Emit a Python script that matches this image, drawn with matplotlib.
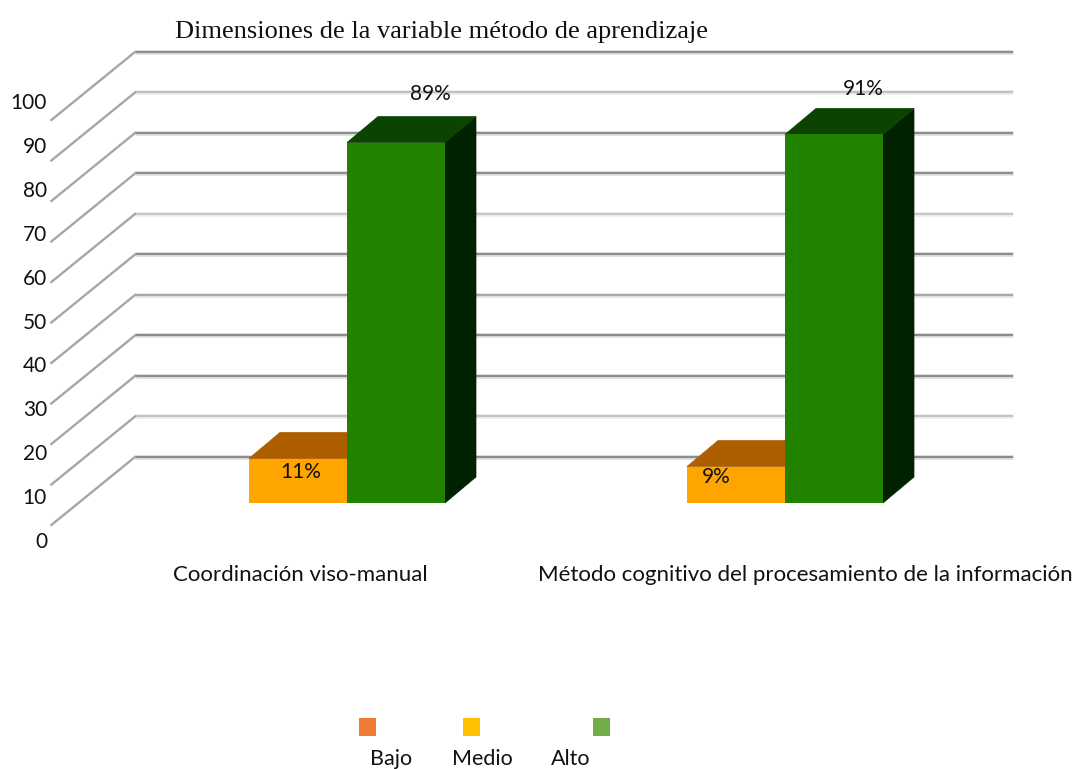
#!/usr/bin/env python3
# -*- coding: utf-8 -*-

import matplotlib
matplotlib.use('Agg')
import matplotlib.pyplot as plt
from matplotlib.patches import Polygon, Rectangle

categories = ['Coordinación viso-manual', 'Método cognitivo del procesamiento de la información']
medio = [11, 9]
alto = [89, 91]
ticks = [0, 10, 20, 30, 40, 50, 60, 70, 80, 90, 100]
legend_names = ['Bajo', 'Medio', 'Alto']
title = 'Dimensiones de la variable método de aprendizaje'

W, H = 1077, 769
# 1 category = 438 px, 1 value unit = 4.05 px
UX, UY = 438.0, 4.05
X0, Y0 = 347, 503

fig = plt.figure(figsize=(W / 100, H / 100), dpi=100)
ax = fig.add_axes([0, 0, 1, 1])
ax.set_xlim(-X0 / UX, (W - X0) / UX)
ax.set_ylim((Y0 - H) / UY, Y0 / UY)
ax.axis('off')

# the fake 3d walls
back_left, front_left, right = -0.484, -0.675, 1.52
back_y, front_y = 11.36, -5.43
grid_shade = ['#8c8c8c', '#c4c4c4', '#8f8f8f', '#8c8c8c', '#a8a8a8', '#8c8c8c',
              '#c8c8c8', '#8f8f8f', '#8c8c8c', '#c0c0c0', '#8c8c8c']
for t, c in zip(ticks, grid_shade):
    ax.plot([back_left, right], [back_y + t, back_y + t], color=c, lw=3.4, alpha=0.3,
            solid_capstyle='butt', zorder=1)
    ax.plot([back_left, right], [back_y + t, back_y + t], color=c, lw=1.5,
            solid_capstyle='butt', zorder=1)
    ax.plot([front_left, back_left], [front_y + t, back_y + t], color='#a6a6a6', lw=1.7, zorder=1)

# bars
bw = 98 / UX
dx, dy = 31 / UX, 26 / UY
for i in range(len(categories)):
    ax.bar(i - bw / 2, medio[i], bw, color='#ffa500', zorder=2)
    m = i - bw
    ax.add_patch(Polygon([(m, medio[i]), (m + dx, medio[i] + dy), (i + dx, medio[i] + dy), (i, medio[i])],
                         color='#ad5f00', lw=0.5, zorder=2))
    ax.add_patch(Polygon([(i + bw, 0), (i + bw + dx, dy), (i + bw + dx, alto[i] + dy), (i + bw, alto[i])],
                         color='#002200', lw=0.5, zorder=3))
    ax.add_patch(Polygon([(i, alto[i]), (i + dx, alto[i] + dy), (i + bw + dx, alto[i] + dy), (i + bw, alto[i])],
                         color='#0a4400', lw=0.5, zorder=3))
    ax.bar(i + bw / 2, alto[i], bw, color='#218200', zorder=3)

# value labels, offsets from the bar top in px
txt = dict(family='Lato', fontsize=15, color='#111111', ha='center', va='center', zorder=5)
medio_off = [(3, -14), (-20, -10)]
alto_off = [(34, 49), (29, 45)]
for i in range(len(categories)):
    ax.annotate('%d%%' % medio[i], (i - bw / 2, medio[i]), xytext=medio_off[i],
                textcoords='offset pixels', **txt)
    ax.annotate('%d%%' % alto[i], (i + bw / 2, alto[i]), xytext=alto_off[i],
                textcoords='offset pixels', **txt)


def px(x, y):
    return x / W, 1 - y / H


# tick labels do not sit on the gridlines in the original
for t in ticks:
    fig.text(*px(47, 542 - 4.39 * t), str(t), family='Lato', fontsize=15, color='#111111',
             ha='right', va='center')

for cx, name in zip([300, 805], categories):
    fig.text(*px(cx, 581), name, family='Lato', fontsize=16, color='#111111', ha='center', va='baseline')

fig.text(*px(175, 38), title, family='Liberation Serif', fontsize=19, color='#111111',
         ha='left', va='baseline')

# legend
for sx, c in zip([359, 463, 593], ['#ed7d31', '#ffc000', '#70ad47']):
    x, y = px(sx, 736)
    fig.add_artist(Rectangle((x, y), 17 / W, 18 / H, color=c, lw=0, transform=fig.transFigure))
for cx, name in zip([391, 482, 571], legend_names):
    fig.text(*px(cx, 765), name, family='Lato', fontsize=15.5, color='#111111', ha='center', va='baseline')

fig.savefig('out.png', dpi=100)
